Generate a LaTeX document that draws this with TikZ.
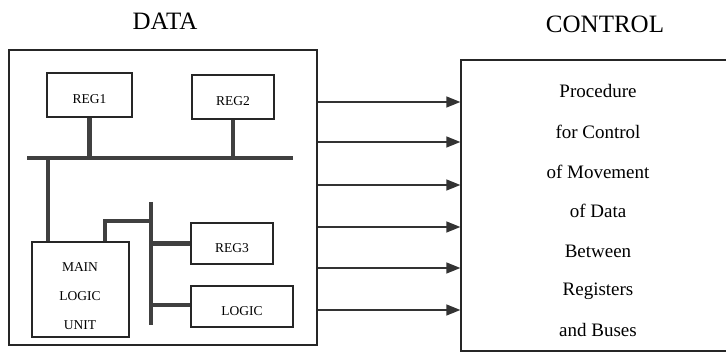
\documentclass[tikz,border=0pt]{standalone}
\usepackage{fontspec}
\setmainfont{Liberation Serif}
\usepackage{tikz}
\usetikzlibrary{arrows.meta,positioning}

\tikzset{
  unitbox/.style={draw=black!85, line width=1.3pt, inner sep=0pt, text height=18pt, text depth=0pt, font=\fontsize{13.5}{16}\selectfont},
  bus/.style={draw=black!75, line width=4.5pt},
  sigarrow/.style={draw=black!80, line width=1.3pt, -{Triangle[length=14pt,width=11pt]}},
  title/.style={font=\fontsize{25}{30}\selectfont}
}

\begin{document}
\begin{tikzpicture}[x=1pt,y=-1pt]
    \useasboundingbox (0,0) rectangle (726,352);
    % titles
    \node[title] (datatitle) at (165,21) {DATA};
    \node[title] (ctrltitle) at (605,24) {CONTROL};
    % data part
    \node[unitbox, minimum width=308pt, minimum height=295pt] (datbox) at (163,197.5) {};
    \node[unitbox, minimum width=85pt, minimum height=44pt] (reg1) at (89.5,95) {REG1};
    \node[unitbox, minimum width=82pt, minimum height=44pt] (reg2) at (233,97) {REG2};
    \node[unitbox, minimum width=97pt, minimum height=95pt] (mlu) at (80.5,289.5) {};
    \node[font=\fontsize{13.5}{16}\selectfont] (mlumain) at (80,267) {MAIN};
    \node[font=\fontsize{13.5}{16}\selectfont] (mlulogic) at (80,296) {LOGIC};
    \node[font=\fontsize{13.5}{16}\selectfont] (mluunit) at (80,325) {UNIT};
    \node[unitbox, minimum width=82pt, minimum height=41pt] (reg3) at (232,243.5) {REG3};
    \node[unitbox, minimum width=102pt, minimum height=41pt] (logic) at (242,306.5) {LOGIC};
    % buses
    \coordinate (busl) at (27,158);
    \coordinate (busr) at (293,158);
    \coordinate (vbust) at (151,202);
    \coordinate (vbusb) at (151,325);
    \draw[bus] (busl) -- (busr);
    \draw[bus] (reg1.south) -- (reg1.south |- busl);
    \draw[bus] (reg2.south) -- (reg2.south |- busl);
    \draw[bus] (mlu.north -| 48,0) -- (48,158);
    \draw[bus] (vbust) -- (vbusb);
    \draw[bus] (mlu.north -| 105,0) -- (105,221) -- (vbust |- 0,221);
    \draw[bus] (reg3.west) -- (vbust |- reg3.west);
    \draw[bus] (logic.west |- 0,305) -- (vbust |- 0,305);
    % control part
    \node[unitbox, minimum width=279pt, minimum height=291pt] (ctrlbox) at (600.5,205.5) {};
    \foreach \ypos/\txt in {91/Procedure, 132/for Control, 172/of Movement, 211/of Data,
                            251/Between, 291/Registers, 330/and Buses}
      \node[font=\fontsize{19}{22}\selectfont] at (598,\ypos) {\txt};
    % signals
    \foreach \ypos in {102,142,185,227,268,310}
      \draw[sigarrow] (datbox.east |- 0,\ypos) -- (ctrlbox.west |- 0,\ypos);
  \end{tikzpicture}
\end{document}
